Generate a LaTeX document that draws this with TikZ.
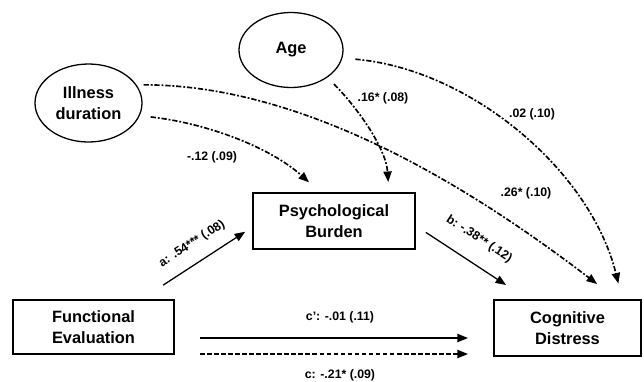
\documentclass[tikz,border=0pt]{standalone}
\usepackage{fontspec}
\setmainfont{Liberation Sans}
\usepackage{tikz}
\usetikzlibrary{calc,shapes.geometric,arrows.meta}

\begin{document}
\begin{tikzpicture}[x=0.03cm, y=-0.03cm,
    box/.style={draw, line width=1.1pt, rectangle, align=center, inner sep=0pt, outer sep=0pt,
        font=\fontsize{14}{17.5}\selectfont\bfseries},
    latent/.style={draw, line width=1.1pt, ellipse, align=center, inner sep=0pt, outer sep=0pt,
        font=\fontsize{14}{17.5}\selectfont\bfseries},
    effect/.style={line width=1.1pt, -{Triangle[length=9pt,width=7pt]}},
    covar/.style={effect, line width=1.4pt, dash pattern=on 4.5pt off 1.6pt on 1.6pt off 1.6pt},
    coef/.style={font=\fontsize{10.5}{12}\selectfont\bfseries, inner sep=1pt}]
    \useasboundingbox (0,0) rectangle (644,381);

    % =====================
    % Variables
    % =====================
    \node[latent, minimum width=3.12cm, minimum height=2.25cm] (age) at (291,50) {Age};
    \node[latent, minimum width=3.21cm, minimum height=2.34cm] (ill) at (88.5,103) {Illness\\duration};
    \node[box, minimum width=4.86cm, minimum height=1.68cm] (psy) at (334,221) {Psychological\\Burden};
    \node[box, minimum width=4.83cm, minimum height=1.62cm] (fun) at (93.5,327) {Functional\\Evaluation};
    \node[box, minimum width=4.41cm, minimum height=1.68cm] (cog) at (567.5,328) {Cognitive\\Distress};

    % =====================
    % Mediation paths
    % =====================
    \draw[effect, shorten <=0.82cm, shorten >=0.28cm] (fun.30) -- (psy.184);
    \draw[effect, shorten <=0.39cm, shorten >=0.82cm] (psy.-3.5) -- (cog.144);
    \draw[effect] ($(fun.east)+(26,11)$) -- ($(cog.west)+(-26,10)$);
    \draw[effect, dash pattern=on 4pt off 2pt] ($(fun.east)+(26,27)$) -- ($(cog.west)+(-26,26)$);

    \node[coef, rotate=33] (la) at (192,244) {a: .54*** (.08)};
    \node[coef, rotate=-33] (lb) at (479,239) {b: -.38** (.12)};
    \node[coef] (lcp) at (340,317) {c': -.01 (.11)};
    \node[coef] (lc) at (340,375) {c: -.21* (.09)};

    % =====================
    % Covariates
    % =====================
    \draw[covar, shorten <=0.35cm, shorten >=0.48cm] (ill.-14) .. controls +(70,8) and +(-50,-45) .. (psy.115);
    \draw[covar, shorten <=0.23cm, shorten >=0.79cm] (ill.21) .. controls +(164,0) and +(-157,-120) .. (cog.29.5);
    \draw[covar, shorten <=0.3cm, shorten >=0.33cm] (age.-37) .. controls +(30,30) and +(-3,-45) .. (psy.27.4);
    \draw[covar, shorten <=0.41cm, shorten >=0.51cm] (age.-9.75) .. controls +(128,11) and +(-32,-130) .. (cog.27.2);

    \node[coef] (lill) at (212,157) {-.12 (.09)};
    \node[coef] (lage) at (383,98) {.16* (.08)};
    \node[coef] (lagec) at (532,114) {.02 (.10)};
    \node[coef] (lillc) at (526,193) {.26* (.10)};
\end{tikzpicture}
\end{document}
